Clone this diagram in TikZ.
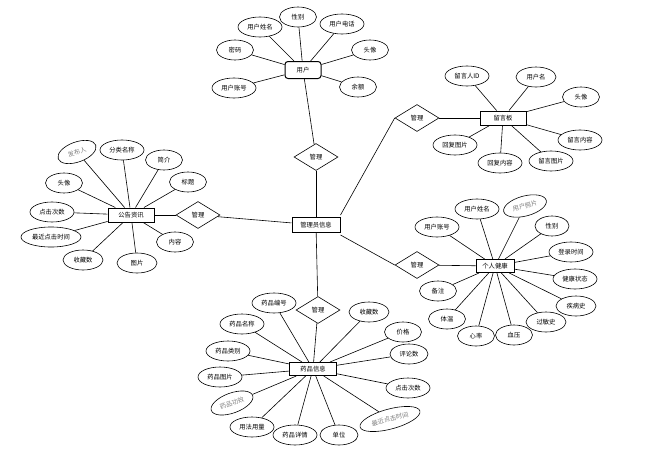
\documentclass[tikz,border=0pt]{standalone}
\usepackage{fontspec}
\newfontfamily\cjk{Noto Sans CJK SC}
\usetikzlibrary{shapes.geometric}
\begin{document}
\begin{tikzpicture}[x=1pt,y=-1pt,
 every node/.style={font=\cjk\fontsize{6.3}{7}\selectfont, inner sep=1pt},
 attr/.style={ellipse, draw, fill=white, minimum width=44, minimum height=20, line width=0.6},
 attrs/.style={attr, minimum width=37},
 faint/.style={text=black!50},
 ent/.style={rectangle, draw, fill=white, line width=1, minimum width=46, minimum height=14},
 rel/.style={diamond, draw, fill=white, minimum width=44, minimum height=27, inner sep=0pt, line width=0.6},
 conn/.style={line width=0.6}]
\useasboundingbox (0,0) rectangle (672,450);
\fill[white] (0,0) rectangle (672,450);

% central
\node[ent, minimum width=48, minimum height=15] (adm) at (316,225) {管理员信息};

% user
\node[ent, rounded corners=3, minimum width=36, minimum height=17] (usr) at (303,70) {用户};
\node[rel] (d1) at (316,157) {管理};
\node[attrs] (u1) at (298,17) {性别};
\node[attr] (u2) at (260,27) {用户姓名};
\node[attr] (u3) at (342,24) {用户电话};
\node[attrs] (u4) at (235,50) {密码};
\node[attrs] (u5) at (370,50) {头像};
\node[attr] (u6) at (234,88) {用户账号};
\node[attrs] (u7) at (358,87) {余额};
\foreach \a in {u1,u2,u3,u4,u5,u6,u7} \draw[conn] (usr) -- (\a);
\draw[conn] (adm) -- (d1);
\draw[conn] (d1) -- (usr);

% message board
\node[ent] (msg) at (503,118) {留言板};
\node[rel] (d2) at (417,118) {管理};
\node[attr] (m1) at (467,76) {留言人ID};
\node[attrs, minimum width=40] (m2) at (536,77) {用户名};
\node[attrs] (m3) at (581,97) {头像};
\node[attr] (m4) at (580,140) {留言内容};
\node[attr] (m5) at (551,161) {留言图片};
\node[attr] (m6) at (500,163) {回复内容};
\node[attr] (m7) at (455,145) {回复图片};
\foreach \a in {m1,m2,m3,m4,m5,m6,m7} \draw[conn] (msg) -- (\a);
\draw[conn] ([yshift=2]adm.north east) -- (d2.west);
\draw[conn] (d2) -- (msg);

% announcements
\node[ent] (ann) at (131,215) {公告资讯};
\node[rel] (d4) at (198,215) {管理};
\node[attrs, minimum width=40, faint, rotate=20] (a1) at (77,152) {发布人};
\node[attr] (a2) at (122,150) {分类名称};
\node[attrs] (a3) at (164,160) {简介};
\node[attrs] (a4) at (188,182) {标题};
\node[attrs] (a5) at (64,183) {头像};
\node[attr] (a6) at (52,212) {点击次数};
\node[attr, minimum width=60] (a7) at (51,237) {最近点击时间};
\node[attrs, minimum width=40] (a8) at (83,260) {收藏数};
\node[attrs, minimum width=40] (a9) at (137,263) {图片};
\node[attrs] (a10) at (175,242) {内容};
\foreach \a in {a1,a2,a3,a4,a5,a6,a7,a8,a9,a10} \draw[conn] (ann) -- (\a);
\draw[conn] (ann) -- (d4);
\draw[conn] (d4) -- (adm);

% personal health
\node[ent, minimum width=38, minimum height=13] (hl) at (495,266) {个人健康};
\node[rel] (d3) at (417,265) {管理};
\node[attr] (h1) at (437,227) {用户账号};
\node[attr] (h2) at (477,209) {用户姓名};
\node[attr, faint, rotate=15] (h3) at (525,206) {用户照片};
\node[attrs, minimum width=34] (h4) at (552,226) {性别};
\node[attr] (h5) at (571,252) {登录时间};
\node[attr] (h6) at (575,279) {健康状态};
\node[attrs, minimum width=40] (h7) at (576,306) {疾病史};
\node[attrs, minimum width=40] (h8) at (546,322) {过敏史};
\node[attrs] (h9) at (514,335) {血压};
\node[attrs] (h10) at (476,336) {心率};
\node[attrs] (h11) at (447,319) {体温};
\node[attrs] (h12) at (438,291) {备注};
\foreach \a in {h1,h2,h3,h4,h5,h6,h7,h8,h9,h10,h11,h12} \draw[conn] (hl) -- (\a);
\draw[conn] ([yshift=-2]adm.south east) -- (d3.west);
\draw[conn] (d3) -- (hl);

% drugs
\node[ent, minimum width=47, minimum height=13] (drg) at (313,369) {药品信息};
\node[rel] (d5) at (318,310) {管理};
\node[attr] (g1) at (274,303) {药品编号};
\node[attr] (g2) at (242,324) {药品名称};
\node[attr] (g3) at (228,351) {药品类别};
\node[attr] (g4) at (220,377) {药品图片};
\node[attr, faint, rotate=20] (g5) at (232,403) {药品功效};
\node[attr] (g6) at (252,427) {用法用量};
\node[attr] (g7) at (295,435) {药品详情};
\node[attrs, minimum width=38] (g8) at (339,435) {单位};
\node[attr, faint, rotate=15, minimum width=62] (g9) at (390,419) {最近点击时间};
\node[attr] (g10) at (408,388) {点击次数};
\node[attrs, minimum width=38] (g11) at (409,354) {评论数};
\node[attrs] (g12) at (403,332) {价格};
\node[attrs, minimum width=40] (g13) at (369,312) {收藏数};
\foreach \a in {g1,g2,g3,g4,g5,g6,g7,g8,g9,g10,g11,g12,g13} \draw[conn] (drg) -- (\a);
\draw[conn] (adm) -- (d5);
\draw[conn] (d5) -- (drg);
\end{tikzpicture}
\end{document}
